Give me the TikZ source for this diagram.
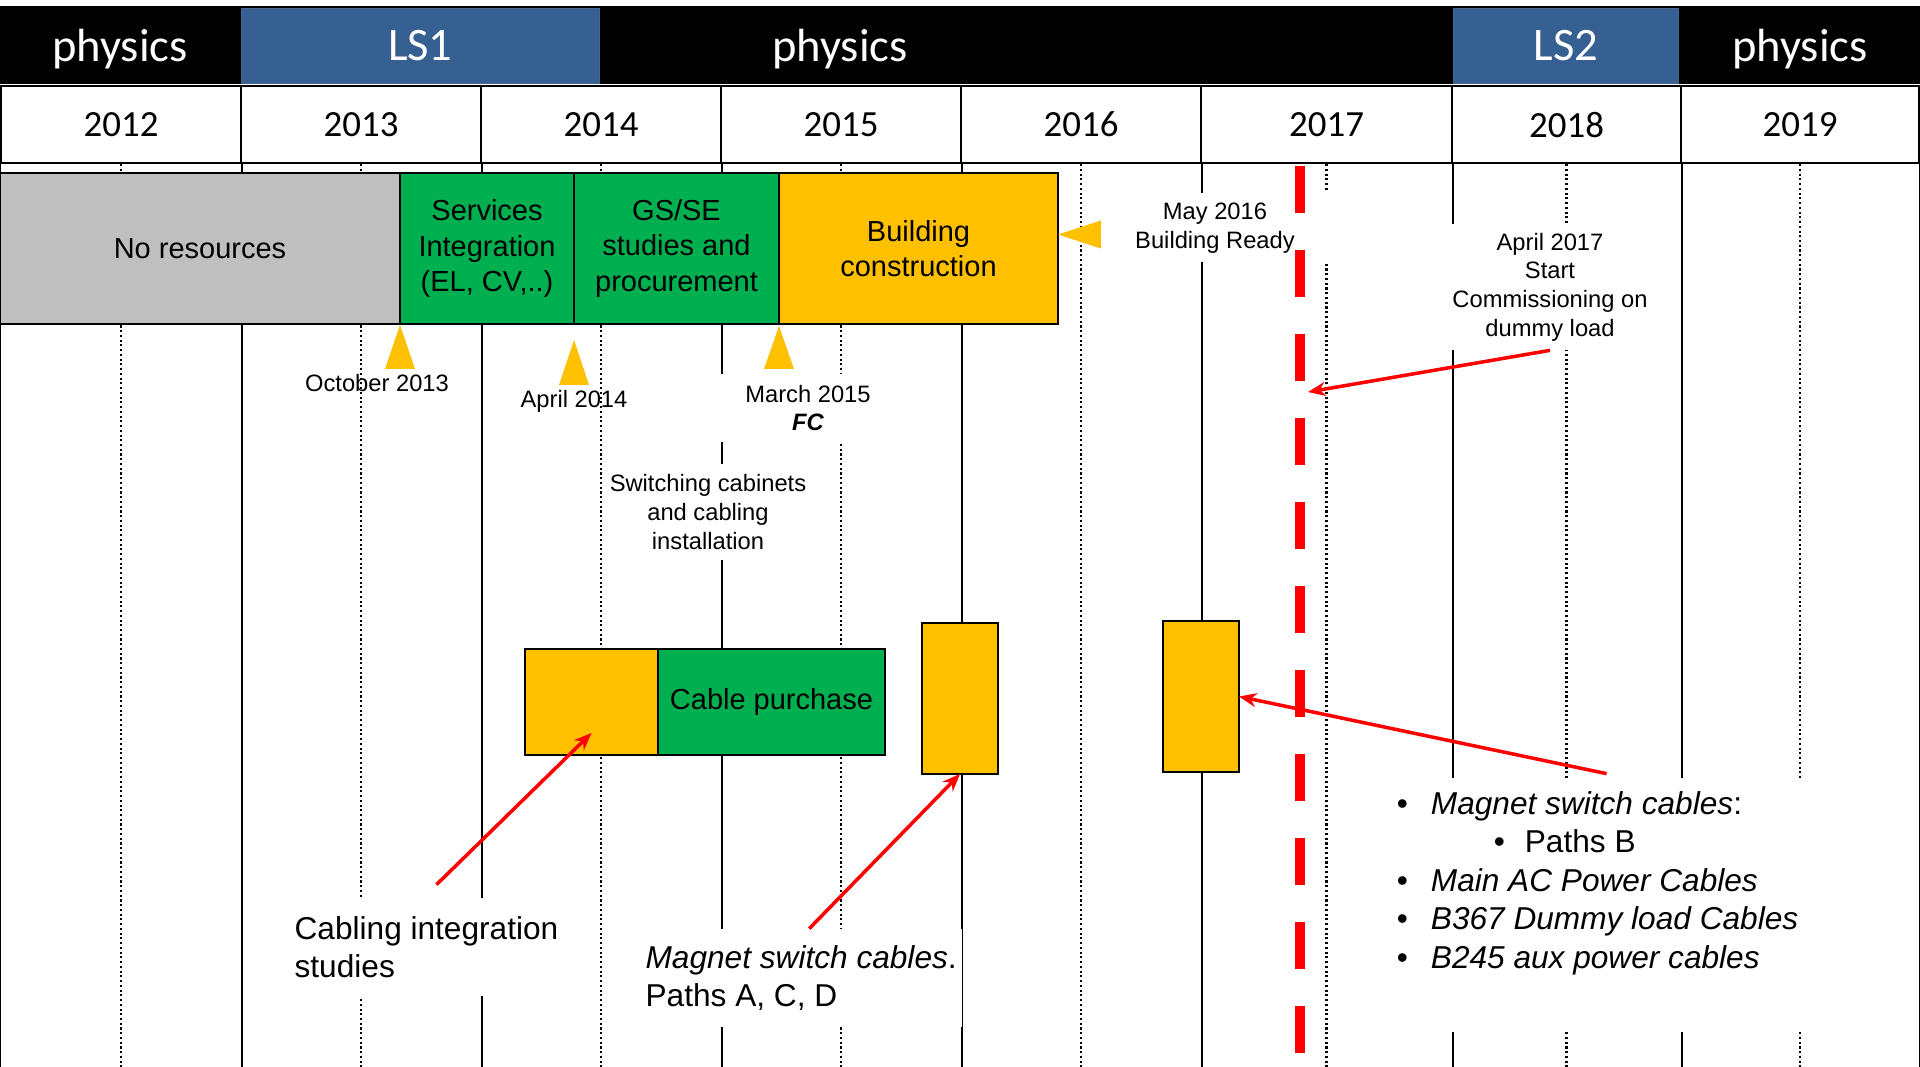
\documentclass[tikz,border=0pt]{standalone}
\usepackage{fontspec}
\setmainfont{Liberation Sans}
\newfontfamily\calibrifont{Carlito}
\usepackage{tikz}
\usetikzlibrary{positioning, calc, arrows.meta}
\usepackage{xcolor}
\definecolor{lsblue}{HTML}{376092}
\definecolor{ppgray}{HTML}{BFBFBF}
\definecolor{ppgreen}{HTML}{00B050}
\definecolor{ppgold}{HTML}{FFC000}
\definecolor{ppred}{HTML}{FF0000}
\newlength{\pxu}
\setlength{\pxu}{0.02cm}
\newcommand{\bulletmark}{\makebox[34\pxu][l]{\textbullet}}

\begin{document}
\begin{tikzpicture}[
        x=0.02cm, y=-0.02cm,
        head/.style={text=white, anchor=base,
                     font={\calibrifont\fontsize{26.5}{31}\selectfont}},
        lsbox/.style={rectangle, fill=lsblue, draw=lsblue!80!gray, anchor=north west,
                      inner sep=0pt, minimum height=75\pxu, text=white,
                      font={\calibrifont\fontsize{26.5}{31}\selectfont}},
        year/.style={rectangle, draw, line width=1.2pt, anchor=north west, inner sep=0pt,
                     minimum height=77\pxu, font={\calibrifont\fontsize{21}{25}\selectfont}},
        grid/.style={line width=1.2pt},
        dots/.style={line width=1.3pt, dash pattern=on 1.2pt off 1.5pt},
        box/.style={rectangle, draw, line width=1.3pt, inner sep=0pt, outer sep=0pt,
                    align=center, font={\fontsize{16.5}{20}\selectfont}},
        tallbox/.style={box, fill=ppgold, minimum width=76\pxu, minimum height=151\pxu,
                        anchor=north west},
        marker/.style={fill=ppgold},
        lbl/.style={align=center, inner sep=0pt, font={\fontsize{13.5}{16.3}\selectfont}},
        note/.style={align=left, fill=white, anchor=west, inner xsep=3pt, inner ysep=0pt,
                     minimum height=98\pxu, font={\fontsize{18}{21.6}\selectfont}},
        redarrow/.style={draw=ppred, line width=2pt, -{Stealth[length=10pt, width=8pt]}},
        redline/.style={draw=ppred, line width=5.7pt, dash pattern=on 26.75pt off 21.06pt}
    ]
    \useasboundingbox (0,0) rectangle (1920,1067);

    %% header: run periods
    \fill[black] (0,6) rectangle (1920,84);
    \node[lsbox, minimum width=358\pxu] (ls1) at (241,8) {LS1};
    \node[lsbox, minimum width=225\pxu] (ls2) at (1453,8) {LS2};
    \node[head] (phys1) at (120,62)  {physics};
    \node[head] (phys2) at (840,62)  {physics};
    \node[head] (phys3) at (1800,62) {physics};

    %% year row and grid
    \foreach \yr/\xpos/\w in {2012/0/240, 2013/240/240, 2014/480/240, 2015/720/240,
                              2016/960/240, 2017/1200/251, 2018/1451/229, 2019/1680/238}
        \node[year, minimum width=\w\pxu] (y\yr) at (\xpos,85) {\yr};
    \draw[grid] (y2012.south west) -- ++(0,905);
    \foreach \yr in {2012,...,2019} {
        \draw[grid] (y\yr.south east) -- ++(0,905);
        \draw[dots] (y\yr.south) -- ++(0,905);
    }

    %% top row of phases
    \node[box, fill=ppgray, anchor=north west, minimum width=400\pxu,
          minimum height=151\pxu] (nores) at (0,173) {No resources};
    \node[box, fill=ppgreen, minimum width=174\pxu, minimum height=151\pxu,
          right=0pt of nores] (servint) {Services\\Integration\\(EL, CV,..)};
    \node[box, fill=ppgreen, minimum width=205\pxu, minimum height=151\pxu,
          right=0pt of servint] (gsse) {GS/SE\\studies and\\procurement};
    \node[box, fill=ppgold, minimum width=279\pxu, minimum height=151\pxu,
          right=0pt of gsse] (build) {Building\\construction};

    %% milestones
    \coordinate (octtip) at ($(nores.south east)+(0,1)$);
    \coordinate (aprtip) at ($(servint.south east)+(0,16)$);
    \coordinate (martip) at ($(gsse.south east)+(0,2)$);
    \coordinate (maytip) at ($(build.east)+(0,-14)$);
    \fill[marker] (octtip) -- ++(15,44) -- ++(-30,0) -- cycle;
    \fill[marker] (aprtip) -- ++(15,45) -- ++(-30,0) -- cycle;
    \fill[marker] (martip) -- ++(15,43) -- ++(-30,0) -- cycle;
    \fill[marker] (maytip) -- ++(46,-15) -- ++(0,30) -- cycle;

    \node[lbl, anchor=base] (octlbl) at (377,392) {October 2013};
    \node[lbl, anchor=base] (aprlbl) at (574,407) {April 2014};
    \node[lbl, fill=white, minimum width=190\pxu, minimum height=68\pxu]
          (marlbl) at (808,408) {March 2015\\\textbf{\textit{FC}}};
    \node[lbl, fill=white, minimum width=205\pxu, minimum height=96\pxu]
          (swlbl) at (708,512) {Switching cabinets\\and cabling\\installation};
    \node[lbl, fill=white, minimum width=228\pxu, minimum height=69\pxu]
          (maylbl) at (1215,228) {May 2016\\Building Ready};
    \node[lbl, fill=white, minimum width=225\pxu, minimum height=126\pxu]
          (comlbl) at (1550,287) {April 2017\\Start\\Commissioning on\\dummy load};

    %% cabling work
    \node[box, fill=ppgold, anchor=north west, minimum width=133\pxu,
          minimum height=106\pxu] (cabstudy) at (525,649) {};
    \node[box, fill=ppgreen, minimum width=227\pxu, minimum height=106\pxu,
          right=0pt of cabstudy] (cabbuy) {Cable purchase};
    \node[tallbox] (magacd) at (922,623) {};
    \node[tallbox] (magb) at (1163,621) {};

    \node[note] (cablbl) at (289,947) {Cabling integration\\studies};
    \node[note] (maglbl) at (640,978) {\textit{Magnet switch cables}.\\Paths A, C, D};
    \node[note, inner xsep=6pt, minimum height=254\pxu,
          font={\fontsize{18}{22}\selectfont}] (listlbl) at (1386,905)
          {\bulletmark\textit{Magnet switch cables}:\\
           \hspace*{97\pxu}\makebox[31\pxu][l]{\textbullet}Paths B\\
           \bulletmark\textit{Main AC Power Cables}\\
           \bulletmark\textit{B367 Dummy load Cables}\\
           \bulletmark\textit{B245 aux power cables}\\
           \strut};

    %% commissioning start and pointers
    \coordinate (rtop) at (1300,166);
    \coordinate (rbot) at (1300,1053);
    \draw[redline] (rtop) -- (rbot);
    \coordinate (comm) at (1308,392);
    \draw[redarrow] (comlbl.south) -- (comm);
    \draw[redarrow] ($(listlbl.north)+(9,-4)$) -- (magb.east);
    \draw[redarrow] ($(maglbl.north)+(8,0)$) -- (magacd.south);
    \draw[redarrow] ($(cablbl.north)+(10,-13)$) -- ($(cabstudy.south)+(0,-22)$);

\end{tikzpicture}
\end{document}
